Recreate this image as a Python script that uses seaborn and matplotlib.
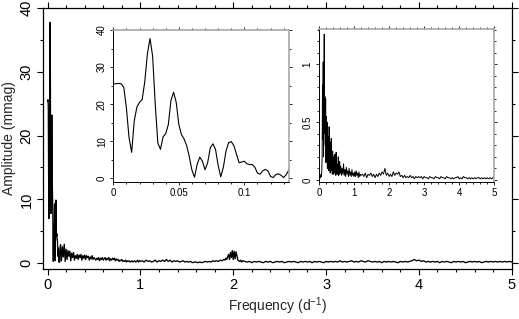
import numpy as np
import pandas as pd
import matplotlib
matplotlib.use("Agg")
import matplotlib.pyplot as plt
import seaborn as sns
from matplotlib.ticker import MultipleLocator, FuncFormatter

# ---------------- data ----------------
# Low-frequency part (0 .. 0.134 d^-1), also shown in the left inset
low_f_start, low_f_stop = 0.0, 0.134
low_amp = [25.4, 25.5, 25.6, 25.5, 24.5, 19.0, 11.0, 7.0, 15.5, 19.2,
           20.5, 21.2, 26.0, 33.5, 37.7, 33.0, 20.0, 9.5, 7.8, 11.2,
           12.0, 14.5, 21.0, 23.2, 20.5, 14.5, 11.8, 10.6, 8.8, 5.8,
           2.2, 0.3, 3.8, 5.7, 4.6, 2.3, 4.2, 8.2, 9.3, 7.8,
           3.5, 0.4, 3.0, 7.3, 9.6, 9.9, 8.8, 6.5, 4.2, 4.4,
           4.6, 3.9, 3.7, 3.7, 3.0, 1.4, 1.1, 2.0, 2.4, 2.0,
           0.5, 0.2, 1.0, 1.2, 0.8, 0.2, 1.0, 2.3]

# 0.14 .. 1.00
seg1_start, seg1_stop = 0.14, 1.00
seg1_amp = [2.9, 0.4, 2.6, 1.0, 3.0, 0.3, 2.2,
            0.6, 2.0, 1.1, 1.9, 0.4, 1.6, 0.9, 1.7, 0.5, 1.2,
            0.8, 1.4, 0.6, 1.3, 0.9, 1.4, 0.5, 1.2, 0.8, 1.3,
            0.6, 1.2, 0.9, 1.1, 0.5, 1.0, 0.7, 1.2, 0.6, 0.9,
            0.7, 0.5, 0.8, 0.6, 0.9, 0.4, 0.8, 0.6, 0.9, 0.5,
            0.7, 0.9, 0.5, 0.8, 0.6, 0.9, 0.4, 0.7, 0.5, 0.8,
            0.6, 0.8, 0.4, 0.7, 0.5, 0.6, 0.3, 0.5, 0.4, 0.6,
            0.3, 0.4, 0.3, 0.5, 0.2, 0.4, 0.3, 0.4, 0.2, 0.3,
            0.4, 0.2, 0.3, 0.4, 0.2, 0.3, 0.5, 0.2, 0.4, 0.3]

# 1.02 .. 1.90
seg2_start, seg2_stop = 1.02, 1.90
seg2_amp = [0.4, 0.2, 0.5, 0.3, 0.4, 0.2, 0.3, 0.5, 0.2, 0.4,
            0.3, 0.5, 0.3, 0.6, 0.3, 0.5, 0.2, 0.4, 0.3, 0.4,
            0.2, 0.3, 0.4, 0.2, 0.3, 0.2, 0.3, 0.1, 0.2, 0.2,
            0.1, 0.2, 0.1, 0.2, 0.3, 0.2, 0.3, 0.2, 0.4, 0.3,
            0.4, 0.3, 0.5, 0.4, 0.6]

# 1.91 .. 2.10 (bump near 2 d^-1)
seg3_start, seg3_stop = 1.91, 2.10
seg3_amp = [0.5, 0.8, 0.6, 1.0, 1.4, 0.6, 1.7, 0.9, 2.0, 0.6,
            1.9, 0.7, 1.8, 1.2, 0.5, 0.4, 0.3, 0.5, 0.2, 0.4]

# 2.125 .. 5.00
seg4_start, seg4_stop = 2.125, 5.00
seg4_amp = [0.3, 0.2, 0.3, 0.1, 0.3, 0.2, 0.3, 0.2, 0.1, 0.3,
            0.2, 0.3, 0.1, 0.2, 0.3, 0.2, 0.3, 0.1, 0.2, 0.3,
            0.2, 0.3, 0.2, 0.1, 0.3, 0.2, 0.3, 0.2, 0.3, 0.1,
            0.3, 0.2, 0.3, 0.2, 0.1, 0.3, 0.2, 0.3, 0.2, 0.3,
            0.2, 0.4, 0.2, 0.3, 0.2, 0.3, 0.4, 0.2, 0.3, 0.2,
            0.4, 0.3, 0.2, 0.4, 0.3, 0.2, 0.3, 0.2, 0.3, 0.1,
            0.3, 0.2, 0.3, 0.2, 0.3, 0.2, 0.1, 0.3, 0.2, 0.3,
            0.2, 0.3, 0.4, 0.6, 0.4, 0.5, 0.3, 0.4, 0.2, 0.3,
            0.2, 0.3, 0.2, 0.3, 0.1, 0.3, 0.2, 0.3, 0.2, 0.1,
            0.3, 0.2, 0.3, 0.2, 0.3, 0.1, 0.2, 0.3, 0.2, 0.3,
            0.2, 0.3, 0.1, 0.2, 0.3, 0.2, 0.3, 0.2, 0.3, 0.2,
            0.3, 0.2, 0.3, 0.2, 0.3, 0.2]

# Right inset: residual periodogram (0 .. 5 d^-1)
res1_start, res1_stop = 0.00, 0.10
res1_amp = [0.01, 0.02, 0.01, 0.03, 0.02, 0.03, 0.05, 0.03, 0.08, 0.2, 0.82]
res2_start, res2_stop = 0.11, 0.60
res2_amp = [0.35, 1.02, 0.2, 0.75, 1.26, 0.4, 0.72, 0.3, 0.7, 0.15,
            0.55, 0.25, 0.5, 0.1, 0.38, 0.15, 0.3, 0.08, 0.46, 0.12,
            0.33, 0.06, 0.28, 0.1, 0.36, 0.08, 0.22, 0.05, 0.25, 0.1,
            0.2, 0.05, 0.18, 0.08, 0.22, 0.06, 0.15, 0.04, 0.24, 0.07,
            0.14, 0.05, 0.12, 0.06, 0.2, 0.04, 0.11, 0.05, 0.16, 0.06]
res3_start, res3_stop = 0.62, 1.20
res3_amp = [0.12, 0.04, 0.1, 0.05, 0.14, 0.04, 0.09, 0.03, 0.11, 0.05,
            0.08, 0.03, 0.1, 0.04, 0.07, 0.03, 0.09, 0.04, 0.06, 0.03,
            0.07, 0.03, 0.08, 0.04, 0.06, 0.02, 0.07, 0.03, 0.05, 0.04]
res4_start, res4_stop = 1.24, 5.00
res4_amp = [0.05, 0.03, 0.06, 0.02, 0.05, 0.04, 0.06, 0.03, 0.05, 0.02,
            0.05, 0.03, 0.06, 0.04, 0.07, 0.05, 0.1, 0.04, 0.06, 0.03,
            0.05, 0.03, 0.07, 0.04, 0.06, 0.05, 0.07, 0.03, 0.04, 0.02,
            0.04, 0.02, 0.03, 0.02, 0.04, 0.02, 0.03, 0.01, 0.03, 0.02,
            0.03, 0.02, 0.03, 0.01, 0.03, 0.02, 0.02, 0.01, 0.03, 0.02,
            0.02, 0.01, 0.03, 0.02, 0.02, 0.01, 0.03, 0.02, 0.02, 0.01,
            0.03, 0.02, 0.02, 0.01, 0.02, 0.01, 0.02, 0.02, 0.03, 0.01,
            0.02, 0.01, 0.03, 0.02, 0.02, 0.01, 0.02, 0.01, 0.02, 0.01,
            0.02, 0.01, 0.02, 0.02, 0.01, 0.02, 0.01, 0.02, 0.01, 0.02,
            0.01, 0.02, 0.01, 0.02, 0.03]


def grid(start, stop, vals):
    return np.linspace(start, stop, len(vals))


low_df = pd.DataFrame({"f": grid(low_f_start, low_f_stop, low_amp), "a": low_amp})
main_df = pd.concat([
    low_df,
    pd.DataFrame({"f": grid(seg1_start, seg1_stop, seg1_amp), "a": seg1_amp}),
    pd.DataFrame({"f": grid(seg2_start, seg2_stop, seg2_amp), "a": seg2_amp}),
    pd.DataFrame({"f": grid(seg3_start, seg3_stop, seg3_amp), "a": seg3_amp}),
    pd.DataFrame({"f": grid(seg4_start, seg4_stop, seg4_amp), "a": seg4_amp}),
], ignore_index=True)
res_df = pd.concat([
    pd.DataFrame({"f": grid(res1_start, res1_stop, res1_amp), "a": res1_amp}),
    pd.DataFrame({"f": grid(res2_start, res2_stop, res2_amp), "a": res2_amp}),
    pd.DataFrame({"f": grid(res3_start, res3_stop, res3_amp), "a": res3_amp}),
    pd.DataFrame({"f": grid(res4_start, res4_stop, res4_amp), "a": res4_amp}),
], ignore_index=True)

# ---------------- styling ----------------
sns.set_style("ticks")
plt.rcParams["font.family"] = ["Liberation Sans", "DejaVu Sans"]
plt.rcParams["mathtext.default"] = "regular"

fig = plt.figure(figsize=(5.19, 3.19), dpi=100)
fmt = FuncFormatter(lambda v, p: f"{v:g}")

# main axes
ax = fig.add_axes([0.0823, 0.1577, 0.9037, 0.8182])
sns.lineplot(data=main_df, x="f", y="a", ax=ax, color="black", linewidth=0.95,
             estimator=None, sort=False)
ax.set_xlim(-0.052, 5.0)
ax.set_ylim(-0.84, 40)
ax.xaxis.set_major_locator(MultipleLocator(1))
ax.xaxis.set_minor_locator(MultipleLocator(0.2))
ax.yaxis.set_major_locator(MultipleLocator(10))
ax.yaxis.set_minor_locator(MultipleLocator(5))
ax.xaxis.set_major_formatter(fmt)
ax.yaxis.set_major_formatter(fmt)
ax.tick_params(which="both", direction="out", top=True, right=True, width=0.8,
               colors="black", labelsize=10.5)
ax.tick_params(which="major", length=4.5)
ax.tick_params(which="minor", length=2.5)
ax.tick_params(axis="x", pad=2.5)
ax.tick_params(axis="y", labelrotation=90, pad=2)
for lab in ax.get_yticklabels():
    lab.set_va("center")
ax.set_xlabel("Frequency (d$^{-1}$)", fontsize=10, labelpad=2)
ax.set_ylabel("Amplitude (mmag)", fontsize=10, labelpad=3)
for s in ax.spines.values():
    s.set_linewidth(0.9)
    s.set_color("black")


def style_inset(a):
    a.tick_params(which="both", direction="out", top=True, right=True, width=0.6,
                  colors="black", labelsize=7, pad=2)
    a.tick_params(which="major", length=2.5)
    a.tick_params(which="minor", length=1.5)
    a.tick_params(axis="y", labelrotation=90)
    for lab in a.get_yticklabels():
        lab.set_va("center")
    for side in ("left", "bottom"):
        a.spines[side].set_color("black")
        a.spines[side].set_linewidth(0.7)
    for side in ("top", "right"):
        a.spines[side].set_color("#a8a8a8")
        a.spines[side].set_linewidth(1.2)
    a.set_xlabel("")
    a.set_ylabel("")


# left inset
ax1 = fig.add_axes([0.2183, 0.4295, 0.3391, 0.4765])
sns.lineplot(data=low_df, x="f", y="a", ax=ax1, color="black", linewidth=0.8,
             estimator=None, sort=False)
ax1.set_xlim(0, 0.1343)
ax1.set_ylim(-1.0, 40)
ax1.xaxis.set_major_locator(MultipleLocator(0.05))
ax1.xaxis.set_minor_locator(MultipleLocator(0.01))
ax1.yaxis.set_major_locator(MultipleLocator(10))
ax1.yaxis.set_minor_locator(MultipleLocator(5))
ax1.xaxis.set_major_formatter(fmt)
ax1.yaxis.set_major_formatter(fmt)
style_inset(ax1)

# right inset
ax2 = fig.add_axes([0.6146, 0.431, 0.3378, 0.4771])
sns.lineplot(data=res_df, x="f", y="a", ax=ax2, color="black", linewidth=0.7,
             estimator=None, sort=False)
ax2.set_xlim(0, 5.0)
ax2.set_ylim(-0.013, 1.302)
ax2.xaxis.set_major_locator(MultipleLocator(1))
ax2.xaxis.set_minor_locator(MultipleLocator(0.2))
ax2.yaxis.set_major_locator(MultipleLocator(0.5))
ax2.yaxis.set_minor_locator(MultipleLocator(0.1))
ax2.xaxis.set_major_formatter(fmt)
ax2.yaxis.set_major_formatter(fmt)
style_inset(ax2)

fig.savefig("out.png", dpi=100)
